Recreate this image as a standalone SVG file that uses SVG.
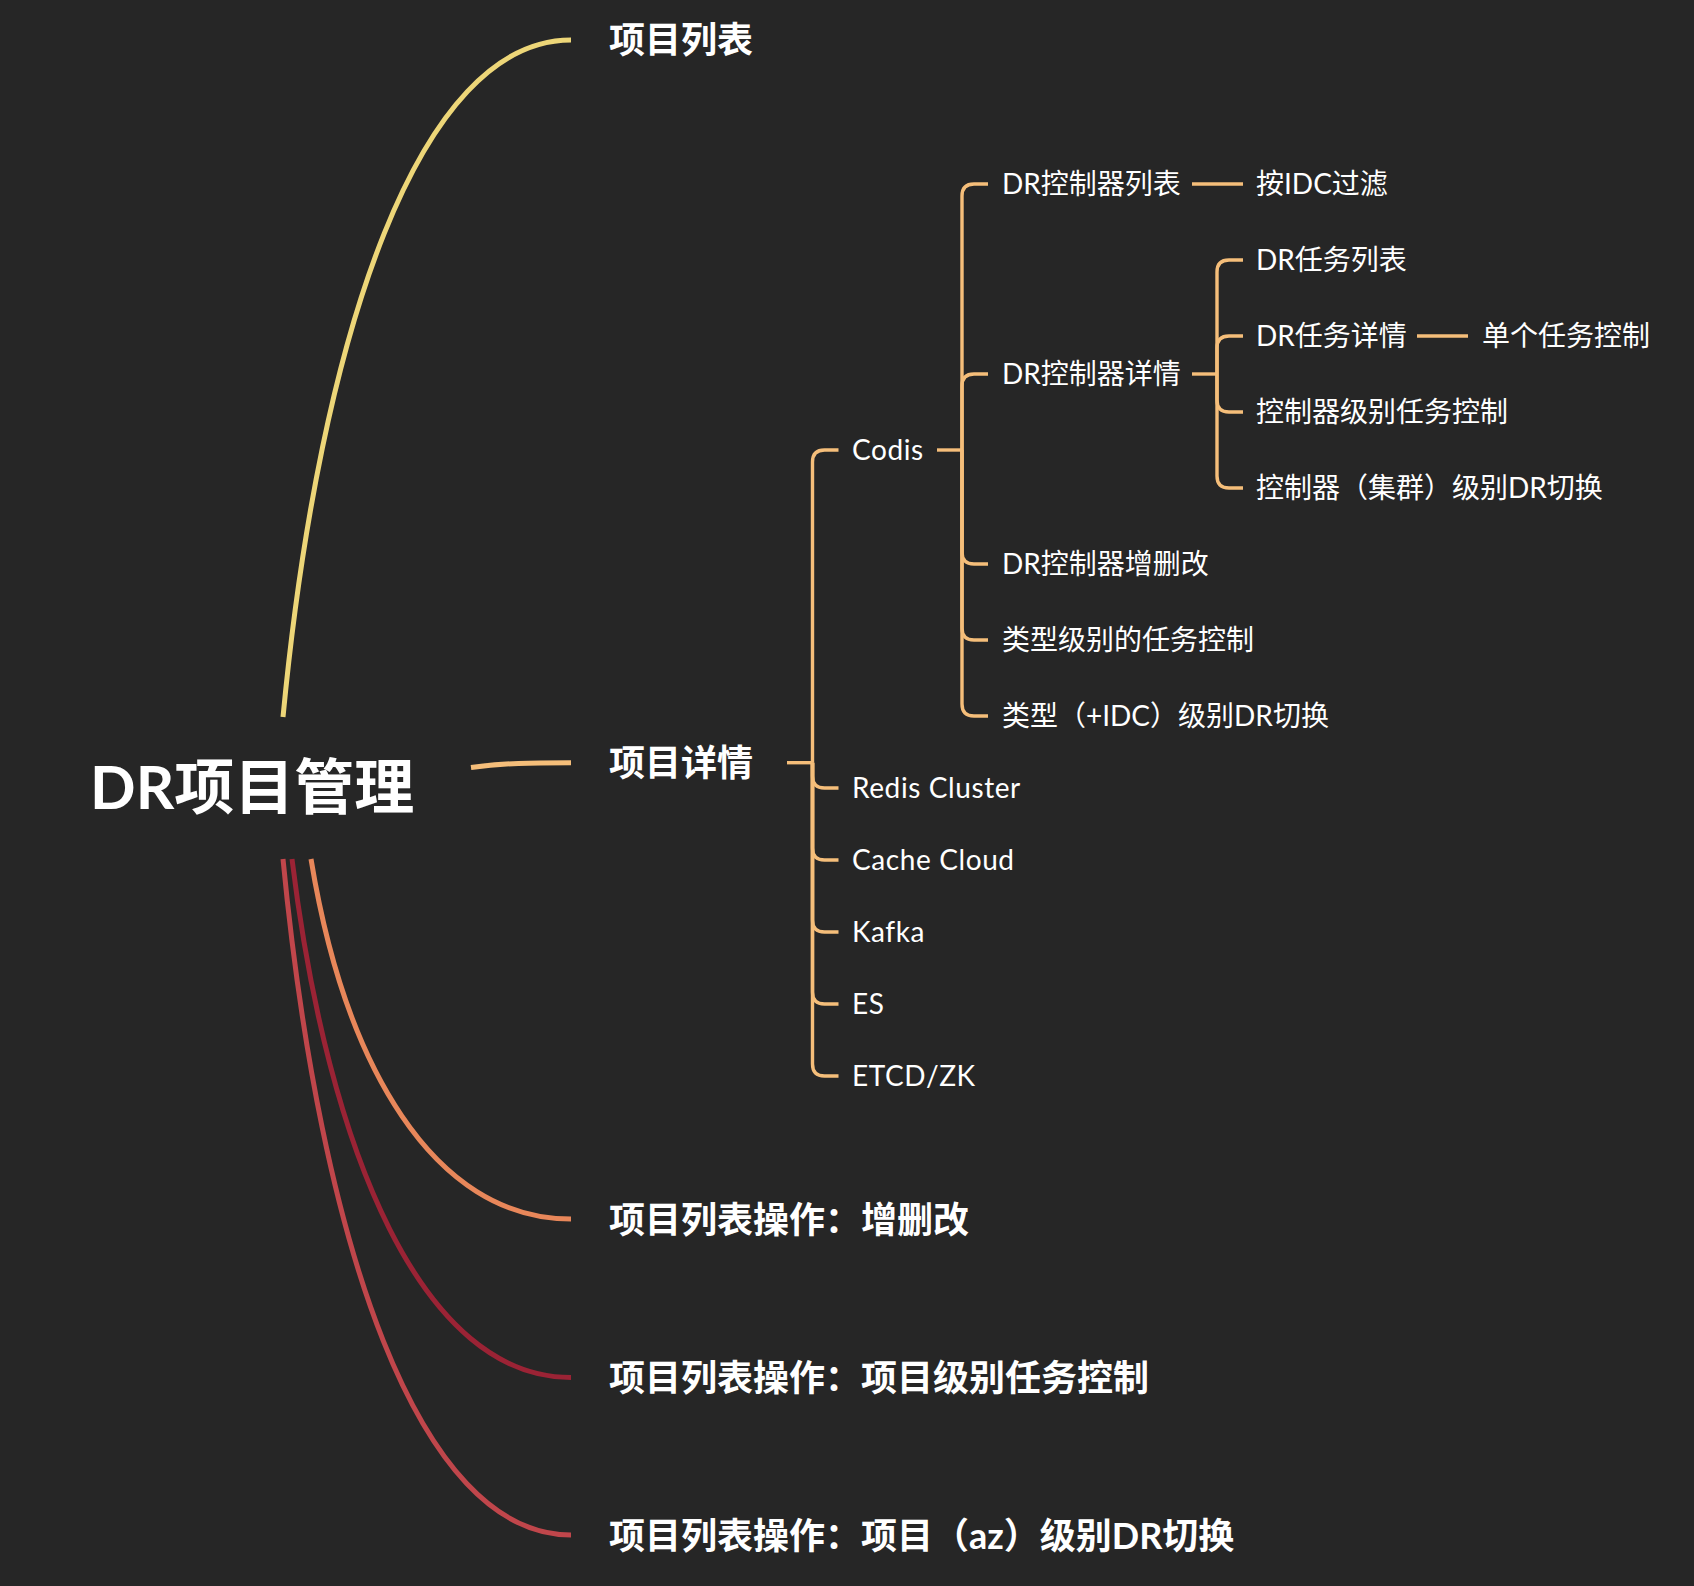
<svg xmlns="http://www.w3.org/2000/svg" width="1694" height="1586" viewBox="0 0 1694 1586">
<style>
text{fill:#ffffff;font-family:Lato,"Noto Sans CJK SC",sans-serif}
.root{font-size:60px;font-weight:700}
.main{font-size:36px;font-weight:700}
.sub{font-size:28px;font-weight:400}
.lat{letter-spacing:0.6px}
.c{fill:none;stroke-linecap:butt}
.l1{stroke-width:5}
.l2{stroke:#F5BE7A;stroke-width:3.4;fill:none}
</style>
<rect width="1694" height="1586" fill="#262626"/>
<g id="connectors">
  <path class="c l1" stroke="#EDD678" d="M 283 717 C 320 330, 420 40, 571 40"/>
  <path class="c l1" stroke="#F5BE7A" d="M 471 767.5 C 505 763, 530 762.7, 571 762.7"/>
  <path class="c l1" stroke="#E8875A" d="M 311 859 C 344.7 1064, 432.7 1219, 571 1219"/>
  <path class="c l1" stroke="#9B2335" d="M 292 859 C 328 1154, 423 1377.5, 571 1377.5"/>
  <path class="c l1" stroke="#C0464B" d="M 283 859 C 320 1244, 418 1535, 571 1535"/>
  <path class="l2" d="M 787 762.7 H 812.5"/>
  <path class="l2" d="M 812.5 762.7 V 462 Q 812.5 450 824.5 450 H 838.5"/>
  <path class="l2" d="M 812.5 762.7 V 776 Q 812.5 788 824.5 788 H 838.5"/>
  <path class="l2" d="M 812.5 762.7 V 848 Q 812.5 860 824.5 860 H 838.5"/>
  <path class="l2" d="M 812.5 762.7 V 920 Q 812.5 932 824.5 932 H 838.5"/>
  <path class="l2" d="M 812.5 762.7 V 992 Q 812.5 1004 824.5 1004 H 838.5"/>
  <path class="l2" d="M 812.5 762.7 V 1064 Q 812.5 1076 824.5 1076 H 838.5"/>
  <path class="l2" d="M 937 450 H 962"/>
  <path class="l2" d="M 962 450 V 196 Q 962 184 974 184 H 988"/>
  <path class="l2" d="M 962 450 V 386 Q 962 374 974 374 H 988"/>
  <path class="l2" d="M 962 450 V 552 Q 962 564 974 564 H 988"/>
  <path class="l2" d="M 962 450 V 628 Q 962 640 974 640 H 988"/>
  <path class="l2" d="M 962 450 V 704 Q 962 716 974 716 H 988"/>
  <path class="l2" d="M 1192 184 H 1243"/>
  <path class="l2" d="M 1192 374 H 1217"/>
  <path class="l2" d="M 1217 374 V 272 Q 1217 260 1229 260 H 1243"/>
  <path class="l2" d="M 1217 374 V 348 Q 1217 336 1229 336 H 1243"/>
  <path class="l2" d="M 1217 374 V 400 Q 1217 412 1229 412 H 1243"/>
  <path class="l2" d="M 1217 374 V 476 Q 1217 488 1229 488 H 1243"/>
  <path class="l2" d="M 1417 336 H 1468"/>
</g>
<g id="root"><text class="root" x="90" y="808.5">DR项目管理</text></g>
<g id="n-list"><text class="main" x="609" y="53.3">项目列表</text></g>
<g id="n-detail"><text class="main" x="609" y="776">项目详情</text></g>
<g id="n-op1"><text class="main" x="609" y="1232.5">项目列表操作：增删改</text></g>
<g id="n-op2"><text class="main" x="609" y="1391">项目列表操作：项目级别任务控制</text></g>
<g id="n-op3"><text class="main" x="609" y="1548.5">项目列表操作：项目（az）级别DR切换</text></g>
<g id="n-codis"><text class="sub lat" x="852" y="460.4">Codis</text></g>
<g id="n-redis"><text class="sub lat" x="852" y="798.4">Redis Cluster</text></g>
<g id="n-cache"><text class="sub lat" x="852" y="870.4">Cache Cloud</text></g>
<g id="n-kafka"><text class="sub lat" x="852" y="942.4">Kafka</text></g>
<g id="n-es"><text class="sub lat" x="852" y="1014.4">ES</text></g>
<g id="n-etcd"><text class="sub lat" x="852" y="1086.4">ETCD/ZK</text></g>
<g id="n-ctl-list"><text class="sub" x="1002" y="194.4">DR控制器列表</text></g>
<g id="n-ctl-detail"><text class="sub" x="1002" y="384.4">DR控制器详情</text></g>
<g id="n-ctl-crud"><text class="sub" x="1002" y="574.4">DR控制器增删改</text></g>
<g id="n-type-task"><text class="sub" x="1002" y="650.4">类型级别的任务控制</text></g>
<g id="n-type-dr"><text class="sub" x="1002" y="726.4">类型（+IDC）级别DR切换</text></g>
<g id="n-idc-filter"><text class="sub" x="1256" y="194.4">按IDC过滤</text></g>
<g id="n-task-list"><text class="sub" x="1256" y="270.4">DR任务列表</text></g>
<g id="n-task-detail"><text class="sub" x="1256" y="346.4">DR任务详情</text></g>
<g id="n-ctl-task"><text class="sub" x="1256" y="422">控制器级别任务控制</text></g>
<g id="n-ctl-dr"><text class="sub" x="1256" y="498.4">控制器（集群）级别DR切换</text></g>
<g id="n-single-task"><text class="sub" x="1482" y="346.4">单个任务控制</text></g>
</svg>
